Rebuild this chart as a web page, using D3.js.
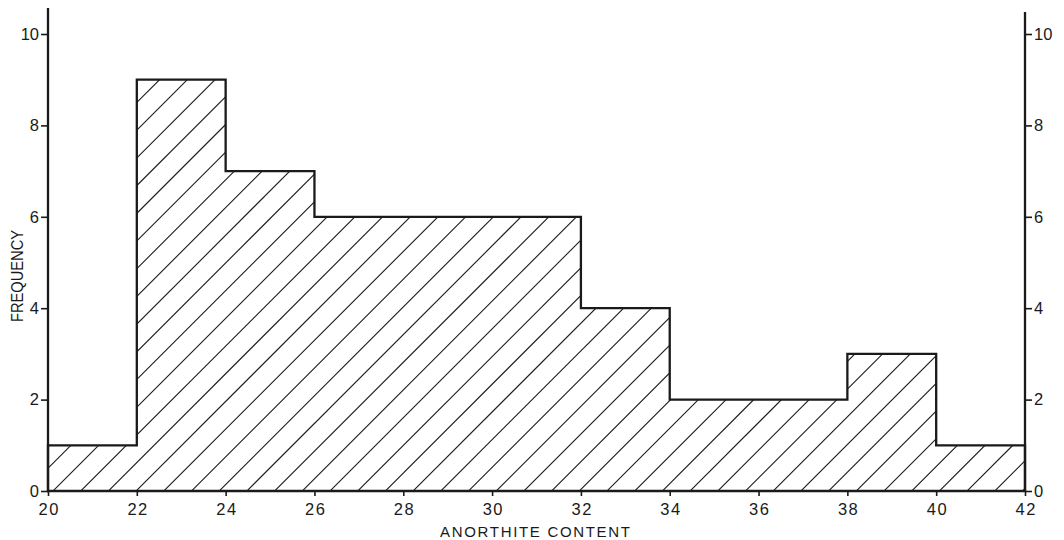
<!DOCTYPE html>
<html>
<head>
<meta charset="utf-8">
<script src="https://cdn.jsdelivr.net/npm/d3@7"></script>
<style>
  html, body { margin: 0; padding: 0; background: #fff; }
  svg { display: block; }
  text { font-family: "Liberation Sans", Arial, sans-serif; fill: #1a1a1a; }
</style>
</head>
<body>
<svg id="chart" width="1064" height="540"></svg>
<script>
// Histogram of anorthite content (bin edges at 2-unit steps)
const binStarts = [20, 22, 24, 26, 28, 30, 32, 34, 36, 38, 40];
const binWidth = 2;
const frequencies = [1, 9, 7, 6, 6, 6, 4, 2, 2, 3, 1];
const xTicks = [20, 22, 24, 26, 28, 30, 32, 34, 36, 38, 40, 42];
const yTicks = [0, 2, 4, 6, 8, 10];
const xLabel = "ANORTHITE CONTENT";
const yLabel = "FREQUENCY";

const svg = d3.select("#chart");
const ink = "#1a1a1a";

const x = d3.scaleLinear().domain([20, 42]).range([48, 1025]);
const y = d3.scaleLinear().domain([0, 10]).range([491, 34]);

// Step outline of the histogram, closed along the baseline
const pts = [[binStarts[0], 0]];
binStarts.forEach((b, i) => {
  pts.push([b, frequencies[i]]);
  pts.push([b + binWidth, frequencies[i]]);
});
pts.push([binStarts[binStarts.length - 1] + binWidth, 0]);
const stepLine = d3.line().x(d => x(d[0])).y(d => y(d[1]));
const areaPath = stepLine(pts) + "Z";

const defs = svg.append("defs");
defs.append("clipPath").attr("id", "histClip")
  .append("path").attr("d", areaPath);

// Diagonal hatching inside the histogram
const hatchStep = 27.7;
const hatch = svg.append("g").attr("clip-path", "url(#histClip)");
const c0 = 53 + y(0);
for (let c = c0 - 60 * hatchStep; c < 1100 + 540; c += hatchStep) {
  hatch.append("line")
    .attr("x1", c - 540).attr("y1", 540)
    .attr("x2", c).attr("y2", 0)
    .attr("stroke", ink).attr("stroke-width", 1.1);
}

// Histogram outline (top steps)
svg.append("path")
  .attr("d", stepLine(pts))
  .attr("fill", "none").attr("stroke", ink)
  .attr("stroke-width", 2.3).attr("stroke-linejoin", "miter");

// Left axis
const leftAxis = d3.axisLeft(y).tickValues(yTicks).tickFormat(d3.format("d"))
  .tickSize(7).tickPadding(2);
const gl = svg.append("g").attr("transform", `translate(${x(20)},0)`).call(leftAxis);
gl.select(".domain").remove();
gl.append("line").attr("x1", 0).attr("x2", 0)
  .attr("y1", y(10.57)).attr("y2", y(0) + 1)
  .attr("stroke", ink).attr("stroke-width", 2.3);

// Right axis
const rightAxis = d3.axisRight(y).tickValues(yTicks).tickFormat(d3.format("d"))
  .tickSize(7).tickPadding(2);
const gr = svg.append("g").attr("transform", `translate(${x(42)},0)`).call(rightAxis);
gr.select(".domain").remove();
gr.append("line").attr("x1", 0).attr("x2", 0)
  .attr("y1", y(10.48)).attr("y2", y(0) + 1)
  .attr("stroke", ink).attr("stroke-width", 2.3);

// Bottom axis
const bottomAxis = d3.axisBottom(x).tickValues(xTicks).tickFormat(d3.format("d"))
  .tickSize(5).tickPadding(7);
const gb = svg.append("g").attr("transform", `translate(0,${y(0)})`).call(bottomAxis);
gb.select(".domain").remove();
gb.append("line").attr("x1", x(20) - 1).attr("x2", x(42) + 1)
  .attr("y1", 0).attr("y2", 0)
  .attr("stroke", ink).attr("stroke-width", 2.4);

[gl, gr, gb].forEach(g => {
  g.selectAll(".tick line").attr("stroke", ink).attr("stroke-width", 1.6);
  g.selectAll(".tick text")
    .style("font-family", "'Liberation Sans', Arial, sans-serif")
    .style("font-size", "16.5px").attr("fill", ink);
});
gb.selectAll(".tick text").style("letter-spacing", "1.5px").attr("dx", 0.75);

// Axis titles
svg.append("text")
  .attr("x", 535).attr("y", 537)
  .attr("text-anchor", "middle")
  .style("font-size", "15px")
  .attr("textLength", 190)
  .attr("lengthAdjust", "spacing")
  .text(xLabel);

svg.append("text")
  .attr("transform", "translate(22.5,276) rotate(-90)")
  .attr("text-anchor", "middle")
  .style("font-size", "16px")
  .attr("textLength", 92)
  .attr("lengthAdjust", "spacingAndGlyphs")
  .text(yLabel);
</script>
</body>
</html>
